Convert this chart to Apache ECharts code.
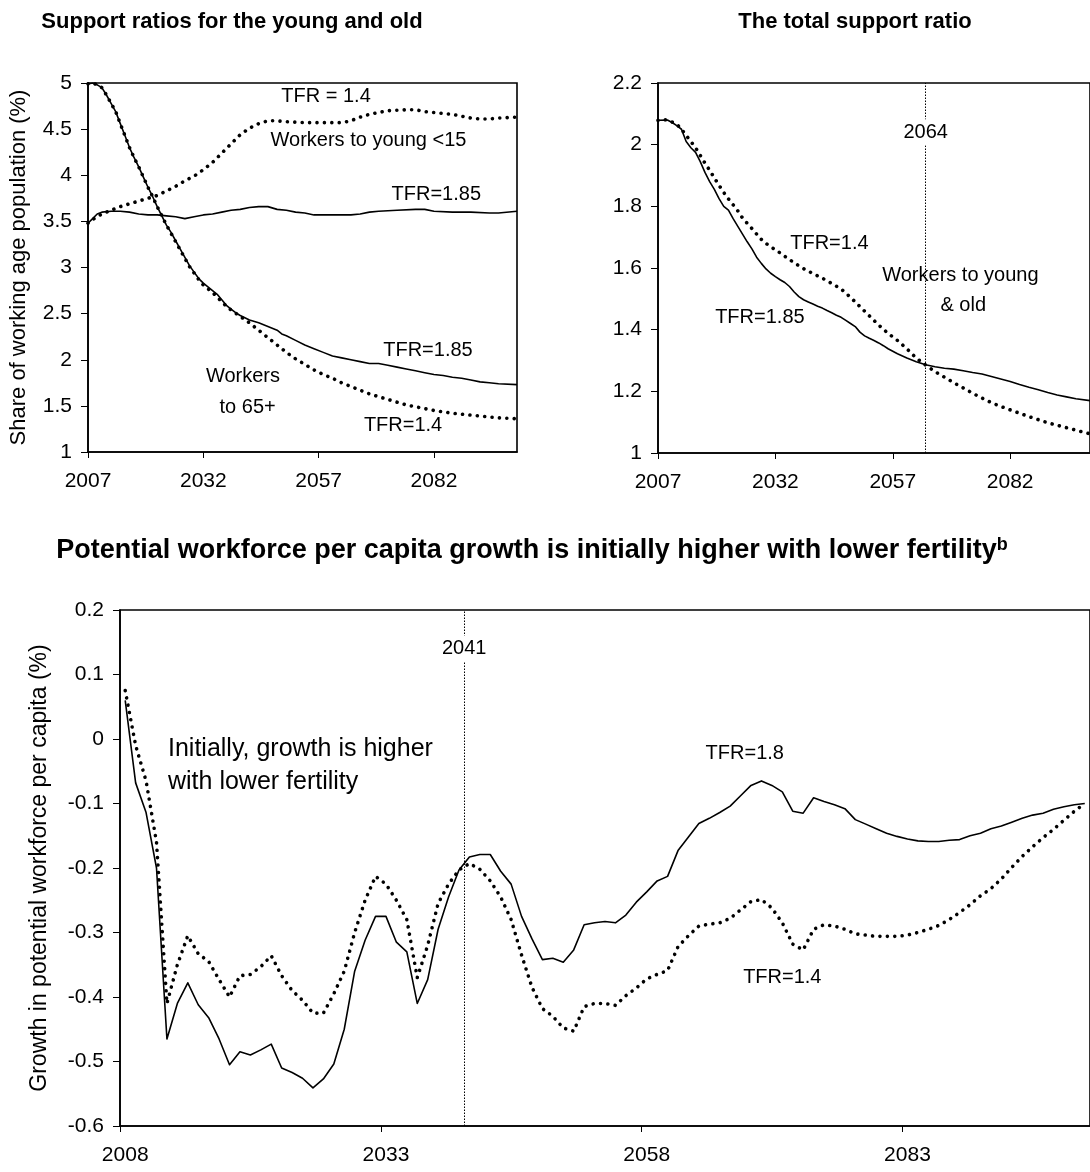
<!DOCTYPE html>
<html>
<head>
<meta charset="utf-8">
<script src="https://cdn.jsdelivr.net/npm/echarts@6/dist/echarts.min.js"></script>
<style>
  html, body { margin: 0; padding: 0; background: #fff; }
  #chart { width: 1090px; height: 1172px; }
</style>
</head>
<body>
<div id="chart"></div>
<script>
// ---- Support ratios for the young and old (workers per person) ----
const oldYears185 = [2007,2008,2009,2010,2011,2012,2013,2014,2015,2016,2017,2018,2019,2020,2021,2022,2023,2024,2025,2026,2027,2028,2029,2030,2031,2032,2033,2034,2035,2036,2037,2038,2039,2040,2042,2044,2046,2048,2049,2050,2052,2054,2056,2058,2060,2062,2064,2066,2068,2070,2072,2074,2076,2078,2080,2082,2084,2086,2088,2090,2092,2094,2096,2100];
const oldVals185 = [4.99,5.00,4.98,4.95,4.87,4.78,4.69,4.56,4.43,4.30,4.19,4.09,3.98,3.87,3.77,3.66,3.56,3.46,3.38,3.29,3.20,3.11,3.02,2.95,2.88,2.83,2.79,2.75,2.71,2.65,2.59,2.55,2.51,2.48,2.43,2.40,2.36,2.32,2.28,2.26,2.21,2.16,2.12,2.08,2.04,2.02,2.00,1.98,1.96,1.96,1.94,1.92,1.90,1.88,1.86,1.84,1.83,1.81,1.80,1.78,1.76,1.75,1.74,1.73];

const oldYears14 = [2007,2008,2009,2010,2011,2012,2013,2014,2015,2016,2017,2018,2019,2020,2021,2022,2023,2024,2025,2026,2027,2028,2029,2030,2031,2032,2033,2034,2035,2036,2037,2038,2040,2042,2044,2046,2048,2050,2052,2054,2056,2058,2060,2062,2064,2066,2068,2070,2072,2074,2076,2078,2080,2082,2084,2086,2088,2090,2092,2094,2096,2100];
const oldVals14 = [4.99,5.00,4.98,4.95,4.87,4.78,4.69,4.56,4.43,4.30,4.19,4.09,3.98,3.87,3.77,3.66,3.56,3.46,3.37,3.28,3.19,3.10,3.01,2.94,2.87,2.81,2.77,2.73,2.68,2.63,2.58,2.54,2.47,2.40,2.32,2.24,2.16,2.08,2.01,1.95,1.89,1.84,1.80,1.75,1.71,1.67,1.63,1.60,1.57,1.54,1.51,1.49,1.47,1.45,1.435,1.42,1.41,1.40,1.39,1.38,1.37,1.36];

const youngYears185 = [2007,2008,2009,2010,2012,2014,2016,2018,2020,2022,2024,2026,2028,2030,2032,2034,2036,2038,2040,2042,2044,2046,2048,2050,2052,2054,2056,2060,2064,2066,2068,2070,2074,2078,2080,2082,2086,2090,2094,2096,2100];
const youngVals185 = [3.48,3.53,3.58,3.60,3.61,3.61,3.60,3.58,3.57,3.57,3.56,3.55,3.53,3.55,3.57,3.58,3.60,3.62,3.63,3.65,3.66,3.66,3.63,3.62,3.60,3.59,3.57,3.57,3.57,3.58,3.60,3.61,3.62,3.63,3.63,3.61,3.60,3.60,3.59,3.59,3.61];

const youngYears14 = [2007,2008,2010,2012,2014,2016,2018,2020,2022,2024,2026,2028,2030,2032,2034,2036,2038,2040,2042,2044,2046,2048,2050,2054,2058,2062,2064,2066,2068,2070,2072,2076,2078,2080,2082,2084,2086,2088,2090,2092,2094,2096,2100];
const youngVals14 = [3.48,3.52,3.58,3.62,3.66,3.69,3.72,3.75,3.78,3.83,3.88,3.94,3.99,4.06,4.14,4.24,4.34,4.44,4.51,4.56,4.59,4.59,4.58,4.57,4.57,4.57,4.59,4.63,4.66,4.68,4.70,4.71,4.71,4.69,4.68,4.67,4.66,4.64,4.62,4.61,4.61,4.62,4.63];

// ---- The total support ratio ----
const totalYears185 = [2007,2009,2010,2011,2012,2013,2014,2015,2016,2017,2018,2019,2020,2021,2022,2023,2024,2025,2026,2027,2028,2029,2030,2031,2032,2033,2034,2035,2036,2037,2038,2039,2040,2041,2042,2043,2044,2045,2046,2047,2048,2049,2050,2051,2052,2053,2054,2055,2056,2057,2058,2060,2062,2064,2066,2068,2070,2072,2074,2076,2078,2080,2082,2084,2086,2088,2090,2092,2094,2096,2099];
const totalVals185 = [2.079,2.080,2.072,2.062,2.050,2.010,1.990,1.975,1.945,1.910,1.880,1.855,1.825,1.800,1.788,1.760,1.735,1.710,1.685,1.662,1.635,1.615,1.597,1.583,1.572,1.562,1.553,1.540,1.522,1.507,1.497,1.490,1.483,1.476,1.470,1.462,1.455,1.447,1.440,1.430,1.420,1.410,1.392,1.380,1.372,1.365,1.357,1.348,1.338,1.330,1.322,1.308,1.296,1.286,1.280,1.275,1.272,1.267,1.261,1.256,1.248,1.240,1.232,1.222,1.213,1.205,1.196,1.188,1.182,1.176,1.170];

const totalYears14 = [2007,2009,2011,2012,2013,2014,2015,2016,2017,2018,2019,2020,2021,2022,2023,2024,2025,2026,2027,2028,2029,2030,2031,2032,2034,2036,2038,2040,2042,2044,2046,2048,2050,2052,2054,2056,2058,2060,2062,2064,2066,2068,2070,2072,2074,2076,2078,2080,2082,2084,2086,2088,2090,2092,2094,2096,2099];
const totalVals14 = [2.079,2.081,2.066,2.050,2.030,2.010,1.990,1.965,1.940,1.917,1.892,1.868,1.845,1.824,1.805,1.785,1.762,1.745,1.728,1.710,1.693,1.680,1.668,1.660,1.638,1.617,1.598,1.582,1.567,1.550,1.532,1.505,1.475,1.445,1.415,1.388,1.365,1.338,1.308,1.285,1.264,1.246,1.228,1.211,1.194,1.178,1.163,1.151,1.140,1.129,1.118,1.108,1.098,1.090,1.082,1.074,1.062];

// ---- Growth in potential workforce per capita (%), one value per year 2008-2100 ----
const growthFirstYear = 2008;
const growth18 = [0.060,-0.068,-0.114,-0.200,-0.465,-0.410,-0.378,-0.412,-0.432,-0.465,
  -0.505,-0.485,-0.490,-0.482,-0.473,-0.510,-0.517,-0.526,-0.541,-0.527,
  -0.504,-0.450,-0.360,-0.312,-0.275,-0.275,-0.315,-0.330,-0.410,-0.373,
  -0.295,-0.245,-0.203,-0.183,-0.179,-0.179,-0.205,-0.225,-0.275,-0.310,
  -0.342,-0.340,-0.346,-0.327,-0.288,-0.285,-0.283,-0.285,-0.273,-0.253,
  -0.237,-0.220,-0.213,-0.173,-0.152,-0.131,-0.123,-0.114,-0.104,-0.088,
  -0.072,-0.065,-0.072,-0.082,-0.112,-0.115,-0.091,-0.097,-0.102,-0.108,
  -0.125,-0.132,-0.139,-0.146,-0.151,-0.155,-0.158,-0.159,-0.159,-0.157,
  -0.156,-0.150,-0.146,-0.139,-0.135,-0.129,-0.123,-0.118,-0.115,-0.109,
  -0.105,-0.102,-0.100];
const growth14 = [0.075,-0.010,-0.065,-0.160,-0.410,-0.350,-0.305,-0.333,-0.345,-0.373,
  -0.400,-0.367,-0.365,-0.353,-0.336,-0.367,-0.390,-0.405,-0.425,-0.425,
  -0.395,-0.360,-0.300,-0.250,-0.213,-0.225,-0.250,-0.280,-0.370,-0.320,
  -0.255,-0.225,-0.203,-0.193,-0.202,-0.220,-0.245,-0.280,-0.335,-0.385,
  -0.418,-0.430,-0.448,-0.453,-0.415,-0.410,-0.410,-0.413,-0.398,-0.386,
  -0.372,-0.365,-0.359,-0.322,-0.305,-0.290,-0.287,-0.285,-0.278,-0.265,
  -0.252,-0.249,-0.262,-0.285,-0.318,-0.327,-0.295,-0.288,-0.290,-0.295,
  -0.302,-0.304,-0.306,-0.306,-0.306,-0.304,-0.300,-0.295,-0.289,-0.280,
  -0.269,-0.257,-0.243,-0.232,-0.217,-0.199,-0.182,-0.167,-0.153,-0.140,
  -0.126,-0.112,-0.100];

// Axis tick labels
const topTickYears = [2007, 2032, 2057, 2082];
const bottomTickYears = [2008, 2033, 2058, 2083];
const totalMarkerYear = 2064;
const growthMarkerYear = 2041;

const FONT = '"Liberation Sans", Arial, Helvetica, sans-serif';
const zip = (xs, ys) => xs.map((x, i) => [x, ys[i]]);
const growthYears = growth18.map((_, i) => growthFirstYear + i);

const chart = echarts.init(document.getElementById('chart'), null, { renderer: 'canvas' });

const solid = { color: '#000', width: 1.6, type: 'solid', join: 'round' };
const dotted = { color: '#000', width: 3.6, type: [0.01, 7.4], cap: 'round', join: 'round' };

function lineSeries(idx, data, style, extra) {
  return Object.assign({
    type: 'line', xAxisIndex: idx, yAxisIndex: idx, data: data,
    showSymbol: false, symbol: 'none', smooth: false, silent: true,
    lineStyle: style, animation: false, clip: true
  }, extra || {});
}

function xAxisCfg(idx, min, max, labels, ticks) {
  return {
    gridIndex: idx, type: 'value', min: min, max: max,
    axisLine: { show: true, onZero: false, lineStyle: { color: '#000', width: 1.6 } },
    axisTick: { show: true, customValues: ticks, length: 6, lineStyle: { color: '#000', width: 1 } },
    axisLabel: { show: true, customValues: labels, formatter: v => String(Math.round(v)),
      color: '#000', fontFamily: FONT, fontSize: 21, margin: 19 },
    splitLine: { show: false }
  };
}
function yAxisCfg(idx, min, max, interval, name, nameGap, nameSize) {
  return {
    gridIndex: idx, type: 'value', min: min, max: max, interval: interval,
    name: name || '', nameLocation: 'middle', nameGap: nameGap || 0,
    nameTextStyle: { color: '#000', fontFamily: FONT, fontSize: nameSize || 22 },
    axisLine: { show: true, onZero: false, lineStyle: { color: '#000', width: 1.6 } },
    axisTick: { show: true, length: 7, lineStyle: { color: '#000', width: 1 } },
    axisLabel: { color: '#000', fontFamily: FONT, fontSize: 21, margin: 16 },
    splitLine: { show: false }
  };
}

const vMark = (year) => ({
  silent: true, symbol: ['none', 'none'], animation: false,
  label: { show: false },
  lineStyle: { color: '#000', width: 1, type: [1.5, 1.5] },
  data: [{ xAxis: year }]
});

chart.setOption({
  backgroundColor: '#fff',
  animation: false,
  grid: [
    { left: 88, top: 83, width: 429, height: 369, show: true, borderColor: '#000', borderWidth: 1.6, backgroundColor: 'transparent' },
    { left: 658, top: 83, width: 436, height: 370, show: true, borderColor: '#000', borderWidth: 1.6, backgroundColor: 'transparent' },
    { left: 120, top: 610, width: 979, height: 516, show: true, borderColor: '#000', borderWidth: 1.6, backgroundColor: 'transparent' }
  ],
  xAxis: [
    xAxisCfg(0, 2007, 2100, topTickYears, topTickYears),
    xAxisCfg(1, 2007, 2099, topTickYears, topTickYears),
    xAxisCfg(2, growthFirstYear - 0.5, growthYears[growthYears.length - 1] + 0.5,
      bottomTickYears, bottomTickYears.map(y => y - 0.5))
  ],
  yAxis: [
    yAxisCfg(0, 1, 5, 0.5, 'Share of working age population (%)', 58, 22),
    yAxisCfg(1, 1, 2.2, 0.2),
    yAxisCfg(2, -0.6, 0.2, 0.1, 'Growth in potential workforce per capita (%)', 69, 23)
  ],
  series: [
    lineSeries(0, zip(oldYears185, oldVals185), solid),
    lineSeries(0, zip(oldYears14, oldVals14), dotted),
    lineSeries(0, zip(youngYears185, youngVals185), solid),
    lineSeries(0, zip(youngYears14, youngVals14), dotted),
    lineSeries(1, zip(totalYears185, totalVals185), solid, { markLine: vMark(totalMarkerYear) }),
    lineSeries(1, zip(totalYears14, totalVals14), dotted),
    lineSeries(2, zip(growthYears, growth18), solid, { markLine: vMark(growthMarkerYear - 0.5) }),
    lineSeries(2, zip(growthYears, growth14), dotted)
  ]
});

// Text annotations placed at data positions
function at(grid, x, y) {
  return chart.convertToPixel({ xAxisIndex: grid, yAxisIndex: grid }, [x, y]);
}
function note(grid, x, y, text, opts) {
  const p = at(grid, x, y);
  const o = opts || {};
  const style = {
    text: text,
    font: (o.size || 20) + 'px ' + FONT,
    fill: '#000',
    align: o.align || 'center', textAlign: o.align || 'center',
    verticalAlign: 'middle', textVerticalAlign: 'middle'
  };
  if (o.bg) { style.backgroundColor = '#fff'; style.padding = [3, 2, 3, 2]; }
  return { type: 'text', x: p[0], y: p[1], z: 100, silent: true, style: style };
}
function heading(x, y, text, size) {
  return { type: 'text', x: x, y: y, silent: true, style: {
    text: text, font: 'bold ' + size + 'px ' + FONT, fill: '#000',
    align: 'center', verticalAlign: 'middle', textAlign: 'center', textVerticalAlign: 'middle' } };
}

const graphics = [
  // panel titles
  heading(232, 22, 'Support ratios for the young and old', 22),
  heading(855, 22, 'The total support ratio', 22),
  { type: 'text', x: 532, y: 551, silent: true, style: {
      text: '{t|Potential workforce per capita growth is initially higher with lower fertility}{s|b}',
      align: 'center', verticalAlign: 'middle', textAlign: 'center', textVerticalAlign: 'middle',
      rich: {
        t: { font: 'bold 27px ' + FONT, fill: '#000', color: '#000', lineHeight: 30 },
        s: { font: 'bold 18px ' + FONT, fill: '#000', color: '#000', verticalAlign: 'top', lineHeight: 18 }
      } } },

  // Support ratios panel
  note(0, 2058.6, 4.85, 'TFR = 1.4'),
  note(0, 2067.8, 4.38, 'Workers to young <15'),
  note(0, 2082.5, 3.79, 'TFR=1.85'),
  note(0, 2080.7, 2.10, 'TFR=1.85'),
  note(0, 2040.6, 1.82, 'Workers'),
  note(0, 2041.6, 1.48, 'to 65+'),
  note(0, 2075.3, 1.29, 'TFR=1.4'),

  // Total support ratio panel
  note(1, totalMarkerYear, 2.04, String(totalMarkerYear), { bg: true }),
  note(1, 2043.5, 1.68, 'TFR=1.4'),
  note(1, 2071.4, 1.575, 'Workers to young'),
  note(1, 2072.0, 1.48, '& old'),
  note(1, 2028.7, 1.44, 'TFR=1.85'),

  // Growth panel
  note(2, growthMarkerYear - 0.5, 0.14, String(growthMarkerYear), { bg: true }),
  note(2, 2012.1, -0.015, 'Initially, growth is higher', { size: 25, align: 'left' }),
  note(2, 2012.1, -0.067, 'with lower fertility', { size: 25, align: 'left' }),
  note(2, 2067.4, -0.022, 'TFR=1.8'),
  note(2, 2071.0, -0.37, 'TFR=1.4')
];

chart.setOption({ graphic: graphics });
</script>
</body>
</html>
